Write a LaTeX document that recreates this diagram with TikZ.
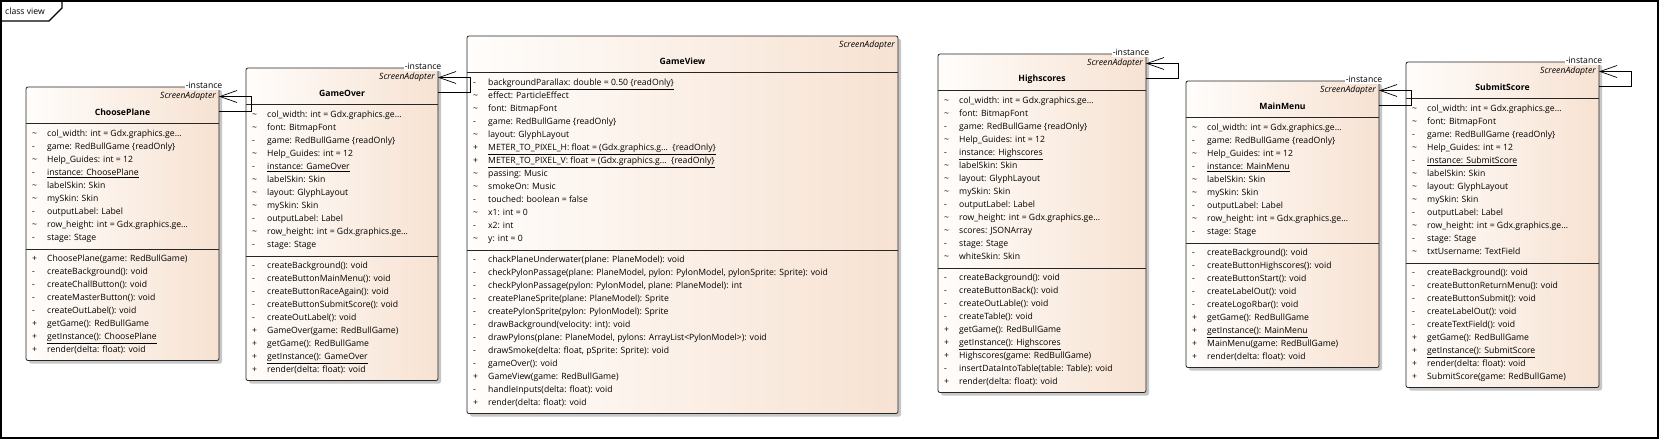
\documentclass[tikz,border=0pt]{standalone}
\usepackage{fontspec}
\setmainfont{Open Sans}
\usetikzlibrary{arrows.meta,shadows}
\definecolor{peach}{RGB}{247,226,210}
\definecolor{peachl}{RGB}{255,253,251}
\newcommand\pk{\textasciitilde}
\newcommand\fsz{\fontsize{8.65}{10}\selectfont}
\tikzset{
  classbox/.style={draw=black!85, line width=0.8pt, rounded corners=2pt,
    left color=peachl, right color=peach, inner sep=0pt, outer sep=0pt,
    drop shadow={shadow xshift=3pt, shadow yshift=-3pt, fill=black!22, opacity=1}},
  member/.style={font=\fsz, inner sep=0pt, text height=6.2pt, text depth=1.8pt, anchor=west},
  ctitle/.style={font=\fsz\bfseries, inner sep=0pt},
  stereo/.style={font=\fsz\itshape, inner sep=0pt, anchor=east},
  sepline/.style={draw=black!85, line width=0.8pt},
  assoc/.style={draw=black, line width=0.7pt, -{Straight Barb[length=17pt,width=12pt]}},
  instlabel/.style={font=\fsz, fill=white, inner sep=1pt, anchor=east},
}
% id, L, T, R, nattr, nmeth, title, attrs, methods
\newcommand\umlclass[9]{%
  \pgfmathsetmacro\Sa{#3+36}%
  \pgfmathsetmacro\Sb{\Sa+13*#5+9}%
  \pgfmathsetmacro\Bt{\Sb+13*#6+7.5}%
  \pgfmathsetmacro\Wd{#4-#2}%
  \pgfmathsetmacro\Ht{\Bt-#3}%
  \node[classbox, minimum width=\Wd pt, minimum height=\Ht pt, anchor=north west] (#1) at (#2,#3) {};
  \draw[sepline] (#2,\Sa) -- (#4,\Sa);
  \draw[sepline] (#2,\Sb) -- (#4,\Sb);
  \node[stereo] (#1-st) at (#4-3,#3+9.5) {ScreenAdapter};
  \node[ctitle] (#1-t) at ({(#2+#4)/2},#3+25) {#7};
  \foreach \s/\t [count=\i] in {#8} {
    \node[member] (#1-as\i) at (#2+6,{\Sa+11.5+13*(\i-1)}) {\s};
    \node[member] (#1-a\i) at (#2+21,{\Sa+11.5+13*(\i-1)}) {\t};
  }
  \foreach \s/\t [count=\i] in {#9} {
    \node[member] (#1-ms\i) at (#2+6,{\Sb+10.5+13*(\i-1)}) {\s};
    \node[member] (#1-m\i) at (#2+21,{\Sb+10.5+13*(\i-1)}) {\t};
  }
}
\newcommand\selfloop[1]{%
  \path (#1.north east) ++(0,9.5) coordinate (#1-p1) ++(0,14.5) coordinate (#1-p2);
  \draw[assoc] (#1-p2) -- ++(32,0) |- (#1-p1);
}
\newcommand\instlab[1]{%
  \node[instlabel] (#1-inst) at ([shift={(4.5,-1.5)}]#1.north east) {-instance};
}
\begin{document}
\begin{tikzpicture}[x=1pt,y=-1pt]
\useasboundingbox (0,0) rectangle (1660,439);
\fill[white] (0,0) rectangle (1660,439);
\draw[line width=1.1pt] (1,1) rectangle (1658,438);
\draw[line width=1.1pt] (1,21) -- (49,21) -- (62,8) -- (62,1);
\node[font=\fsz, anchor=west, inner sep=0pt] (tab) at (5,11) {class view};

\umlclass{cp}{26}{87}{219}{9}{8}{ChoosePlane}{
  \pk/col\_width: int = Gdx.graphics.ge…,
  -/game: RedBullGame \{readOnly\},
  \pk/Help\_Guides: int = 12,
  -/\underline{instance: ChoosePlane},
  \pk/labelSkin: Skin,
  \pk/mySkin: Skin,
  -/outputLabel: Label,
  \pk/row\_height: int = Gdx.graphics.ge…,
  -/stage: Stage}{
  +/ChoosePlane(game: RedBullGame),
  -/createBackground(): void,
  -/createChallButton(): void,
  -/createMasterButton(): void,
  -/createOutLabel(): void,
  +/getGame(): RedBullGame,
  +/\underline{getInstance(): ChoosePlane},
  +/render(delta: float): void}

\umlclass{go}{246}{68}{438}{11}{9}{GameOver}{
  \pk/col\_width: int = Gdx.graphics.ge…,
  \pk/font: BitmapFont,
  -/game: RedBullGame \{readOnly\},
  \pk/Help\_Guides: int = 12,
  -/\underline{instance: GameOver},
  \pk/labelSkin: Skin,
  \pk/layout: GlyphLayout,
  \pk/mySkin: Skin,
  -/outputLabel: Label,
  \pk/row\_height: int = Gdx.graphics.ge…,
  -/stage: Stage}{
  -/createBackground(): void,
  -/createButtonMainMenu(): void,
  -/createButtonRaceAgain(): void,
  -/createButtonSubmitScore(): void,
  -/createOutLabel(): void,
  +/GameOver(game: RedBullGame),
  +/getGame(): RedBullGame,
  +/\underline{getInstance(): GameOver},
  +/render(delta: float): void}

\umlclass{gv}{467}{36}{898}{13}{12}{GameView}{
  -/\underline{backgroundParallax: double = 0.50 \{readOnly\}},
  \pk/effect: ParticleEffect,
  \pk/font: BitmapFont,
  -/game: RedBullGame \{readOnly\},
  \pk/layout: GlyphLayout,
  +/\underline{METER\_TO\_PIXEL\_H: float = (Gdx.graphics.g…\ \ \{readOnly\}},
  +/\underline{METER\_TO\_PIXEL\_V: float = (Gdx.graphics.g…\ \ \{readOnly\}},
  \pk/passing: Music,
  \pk/smokeOn: Music,
  -/touched: boolean = false,
  \pk/x1: int = 0,
  -/x2: int,
  \pk/y: int = 0}{
  -/chackPlaneUnderwater(plane: PlaneModel): void,
  -/{checkPylonPassage(plane: PlaneModel, pylon: PylonModel, pylonSprite: Sprite): void},
  -/{checkPylonPassage(pylon: PylonModel, plane: PlaneModel): int},
  -/createPlaneSprite(plane: PlaneModel): Sprite,
  -/createPylonSprite(pylon: PylonModel): Sprite,
  -/drawBackground(velocity: int): void,
  -/{drawPylons(plane: PlaneModel, pylons: ArrayList<PylonModel>): void},
  -/{drawSmoke(delta: float, pSprite: Sprite): void},
  -/gameOver(): void,
  +/GameView(game: RedBullGame),
  -/handleInputs(delta: float): void,
  +/render(delta: float): void}

\umlclass{hs}{938}{54}{1146}{13}{9}{Highscores}{
  \pk/col\_width: int = Gdx.graphics.ge…,
  \pk/font: BitmapFont,
  -/game: RedBullGame \{readOnly\},
  \pk/Help\_Guides: int = 12,
  -/\underline{instance: Highscores},
  \pk/labelSkin: Skin,
  \pk/layout: GlyphLayout,
  \pk/mySkin: Skin,
  -/outputLabel: Label,
  \pk/row\_height: int = Gdx.graphics.ge…,
  \pk/scores: JSONArray,
  -/stage: Stage,
  \pk/whiteSkin: Skin}{
  -/createBackground(): void,
  -/createButtonBack(): void,
  -/createOutLable(): void,
  -/createTable(): void,
  +/getGame(): RedBullGame,
  +/\underline{getInstance(): Highscores},
  +/Highscores(game: RedBullGame),
  -/insertDataIntoTable(table: Table): void,
  +/render(delta: float): void}

\umlclass{mm}{1186}{81}{1379}{9}{9}{MainMenu}{
  \pk/col\_width: int = Gdx.graphics.ge…,
  -/game: RedBullGame \{readOnly\},
  \pk/Help\_Guides: int = 12,
  -/\underline{instance: MainMenu},
  \pk/labelSkin: Skin,
  \pk/mySkin: Skin,
  -/outputLabel: Label,
  \pk/row\_height: int = Gdx.graphics.ge…,
  -/stage: Stage}{
  -/createBackground(): void,
  -/createButtonHighscores(): void,
  -/createButtonStart(): void,
  -/createLabelOut(): void,
  -/createLogoRbar(): void,
  +/getGame(): RedBullGame,
  +/\underline{getInstance(): MainMenu},
  +/MainMenu(game: RedBullGame),
  +/render(delta: float): void}

\umlclass{ss}{1406}{62}{1599}{12}{9}{SubmitScore}{
  \pk/col\_width: int = Gdx.graphics.ge…,
  \pk/font: BitmapFont,
  -/game: RedBullGame \{readOnly\},
  \pk/Help\_Guides: int = 12,
  -/\underline{instance: SubmitScore},
  \pk/labelSkin: Skin,
  \pk/layout: GlyphLayout,
  \pk/mySkin: Skin,
  -/outputLabel: Label,
  \pk/row\_height: int = Gdx.graphics.ge…,
  -/stage: Stage,
  \pk/txtUsername: TextField}{
  -/createBackground(): void,
  -/createButtonReturnMenu(): void,
  -/createButtonSubmit(): void,
  -/createLabelOut(): void,
  -/createTextField(): void,
  +/getGame(): RedBullGame,
  +/\underline{getInstance(): SubmitScore},
  +/render(delta: float): void,
  +/SubmitScore(game: RedBullGame)}

\selfloop{cp}\selfloop{go}\selfloop{hs}\selfloop{mm}\selfloop{ss}
\instlab{cp}\instlab{go}\instlab{hs}\instlab{mm}\instlab{ss}
\end{tikzpicture}
\end{document}
